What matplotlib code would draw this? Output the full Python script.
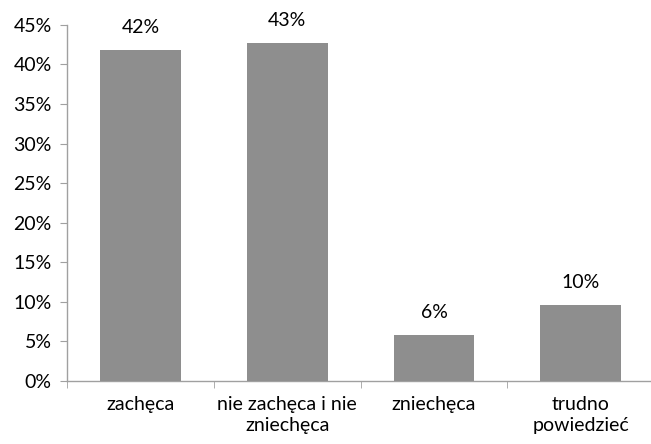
import numpy as np
from matplotlib import pyplot as plt
from matplotlib.ticker import PercentFormatter, FixedLocator

plt.rcParams["font.family"] = ["Lato", "DejaVu Sans"]

categories = ["zachęca", "nie zachęca i nie\nzniechęca", "zniechęca", "trudno\npowiedzieć"]
shares = [0.418, 0.427, 0.058, 0.096]

fig = plt.figure(figsize=(6.51, 4.44), dpi=100)
ax = fig.add_axes([0.103, 0.142, 0.902, 0.802])

X = np.arange(len(categories))
bars = ax.bar(X, shares, width=0.55, color="#8e8e8e", zorder=3)

# value labels above each bar
for b, v in zip(bars, shares):
	ax.annotate(f"{round(v * 100):.0f}%", (b.get_x() + b.get_width() / 2, v),
		xytext=(0, 10), textcoords="offset points", ha="center", va="bottom", fontsize=14)

ax.set_xlim(-0.5, len(categories) - 0.5)
ax.set_ylim(0, 0.45)
ax.set_yticks(np.arange(0, 0.451, 0.05))
ax.yaxis.set_major_formatter(PercentFormatter(1, decimals=0))

ax.set_xticks(X)
ax.set_xticklabels(categories, linespacing=1.25)
ax.xaxis.set_minor_locator(FixedLocator(np.arange(-0.5, len(categories), 1.0)))
ax.tick_params(axis="x", which="major", length=0, pad=11, labelsize=14)
ax.tick_params(axis="x", which="minor", length=5, color="#a0a0a0", direction="out")
ax.tick_params(axis="y", length=5, color="#a0a0a0", labelsize=14, pad=6)

for s in ["top", "right"]:
	ax.spines[s].set_visible(False)
for s in ["left", "bottom"]:
	ax.spines[s].set_color("#a0a0a0")
	ax.spines[s].set_linewidth(1.0)

fig.savefig("out.png", dpi=100)
